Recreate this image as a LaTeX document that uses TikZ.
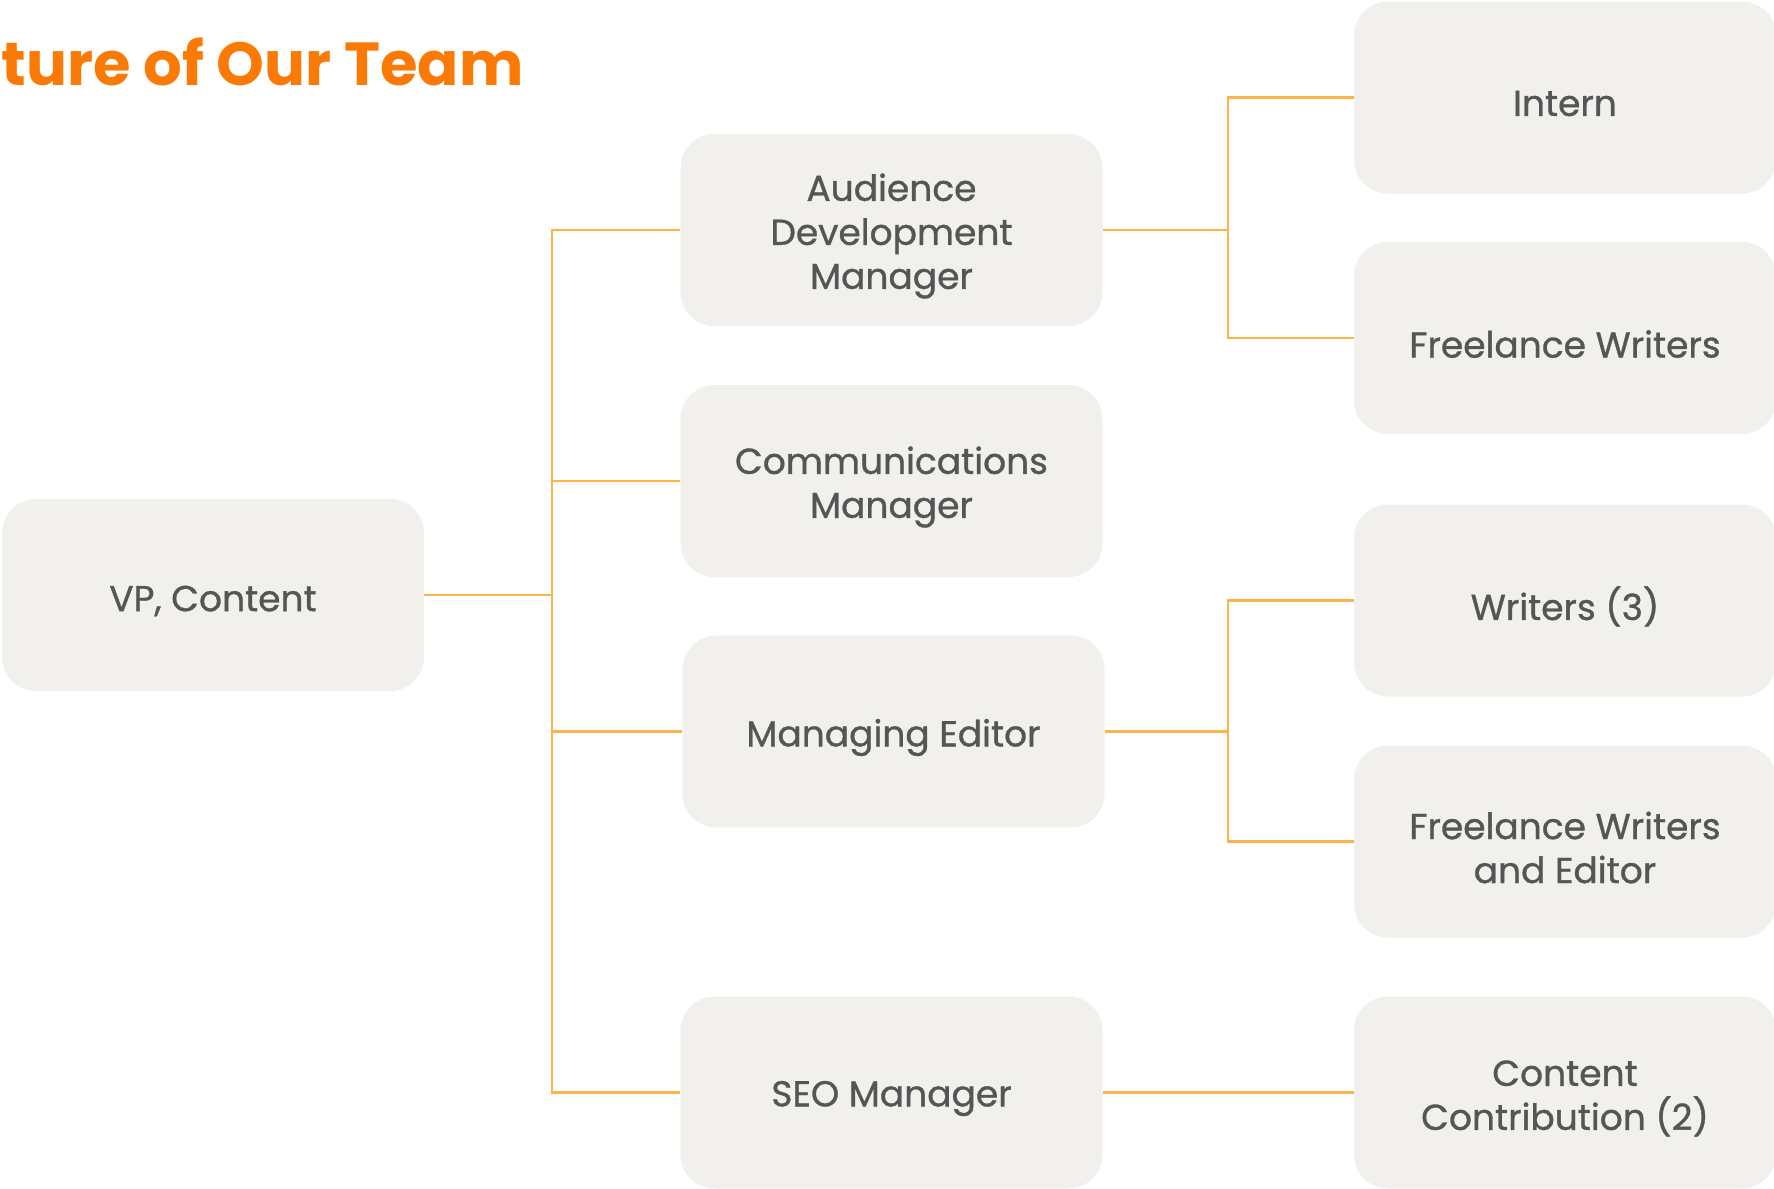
\documentclass[tikz,border=0pt]{standalone}
\usepackage{fontspec}
\setmainfont{Poppins}
\newfontfamily\boxfont{Poppins}[FakeBold=0.9]
\definecolor{boxfill}{HTML}{F1F0ED}
\definecolor{boxtext}{HTML}{555555}
\definecolor{linecol}{HTML}{FDB24A}
\definecolor{titlecol}{HTML}{FA7A05}
\begin{document}
\begin{tikzpicture}[x=0.5pt,y=-0.5pt,
  boxlabel/.style={inner sep=0pt, align=center, text=boxtext, yshift=-3pt,
    font=\boxfont\fontsize{18}{22}\selectfont},
  orgbox/.style={fill=boxfill, draw=none, rounded corners=17pt, minimum width=211pt, minimum height=96pt,
    inner sep=0pt, label={[boxlabel]center:{#1}}},
  link/.style={draw=linecol, line width=1.1pt}]
\useasboundingbox (0,0) rectangle (1774,1189);
\node[anchor=base west, text=titlecol, font=\fontsize{30.4}{36}\selectfont\bfseries, inner sep=0pt] (title) at (1,85) {ture of Our Team};
% level 1
\node[orgbox={VP, Content}] (vp) at (213,595) {};
% level 2
\node[orgbox={Audience\\Development\\Manager}] (adm) at (891.5,230) {};
\node[orgbox={Communications\\Manager}] (comm) at (891.5,481) {};
\node[orgbox={Managing Editor}] (me) at (893.5,731.5) {};
\node[orgbox={SEO Manager}] (seo) at (891.5,1092.5) {};
% level 3
\node[orgbox={Intern}] (intern) at (1565,97.5) {};
\node[orgbox={Freelance Writers}] (fw) at (1565,338) {};
\node[orgbox={Writers (3)}] (w3) at (1565,600.5) {};
\node[orgbox={Freelance Writers\\and Editor}] (fwe) at (1565,841.5) {};
\node[orgbox={Content\\Contribution (2)}] (cc) at (1565,1092.5) {};
% connectors
\coordinate (j1) at (552,595);
\coordinate (j2) at (1228,230);
\coordinate (j3) at (1228,731.5);
\draw[link] (vp.east) -- (j1);
\draw[link] (j1) |- (adm.west);
\draw[link] (j1) |- (comm.west);
\draw[link] (j1) |- (me.west);
\draw[link] (j1) |- (seo.west);
\draw[link] (adm.east) -- (j2);
\draw[link] (j2) |- (intern.west);
\draw[link] (j2) |- (fw.west);
\draw[link] (me.east) -- (j3);
\draw[link] (j3) |- (w3.west);
\draw[link] (j3) |- (fwe.west);
\draw[link] (seo.east) -- (cc.west);
\end{tikzpicture}
\end{document}
